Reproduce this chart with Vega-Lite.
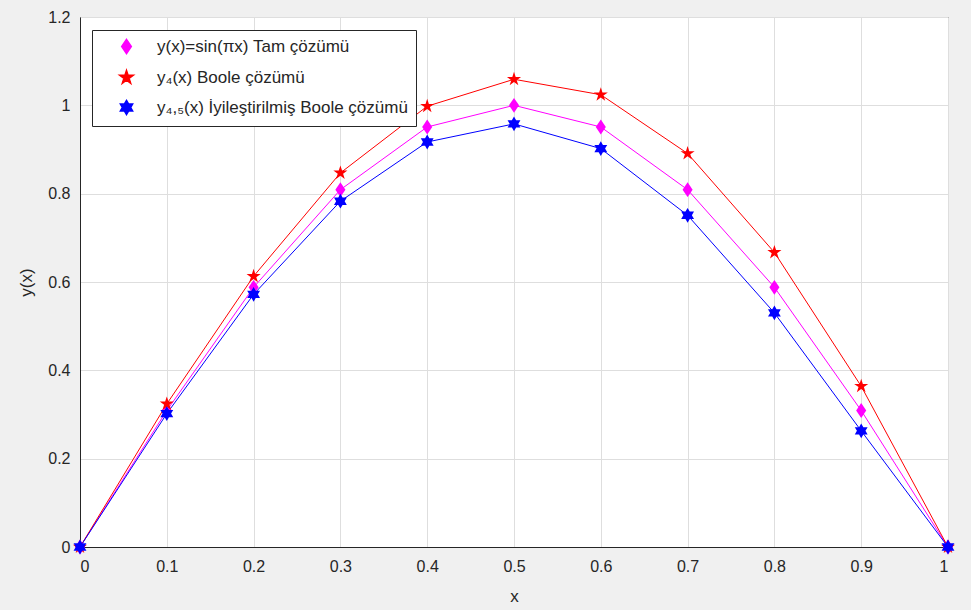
{
  "$schema": "https://vega.github.io/schema/vega-lite/v6.json",
  "autosize": {"type": "none"},
  "padding": {"left": 80, "top": 17, "right": 23, "bottom": 63},
  "width": 868,
  "height": 530,
  "background": "#f0f0f0",
  "config": {
    "font": "Liberation Sans",
    "view": {"fill": "white", "stroke": "#262626", "strokeWidth": 1},
    "axis": {
      "labelFont": "Liberation Sans",
      "titleFont": "Liberation Sans",
      "labelFontSize": 16,
      "titleFontSize": 17,
      "titleFontWeight": "normal",
      "labelColor": "#262626",
      "titleColor": "#262626",
      "gridColor": "#dedede",
      "gridWidth": 1,
      "domainColor": "#262626",
      "tickColor": "#262626",
      "tickSize": 0
    }
  },
  "data": {
    "values": [
      {"x": 0.0, "y": 0.0, "s": "y(x)=sin(πx) Tam çözümü"},
      {"x": 0.1, "y": 0.309, "s": "y(x)=sin(πx) Tam çözümü"},
      {"x": 0.2, "y": 0.588, "s": "y(x)=sin(πx) Tam çözümü"},
      {"x": 0.3, "y": 0.809, "s": "y(x)=sin(πx) Tam çözümü"},
      {"x": 0.4, "y": 0.951, "s": "y(x)=sin(πx) Tam çözümü"},
      {"x": 0.5, "y": 1.0, "s": "y(x)=sin(πx) Tam çözümü"},
      {"x": 0.6, "y": 0.951, "s": "y(x)=sin(πx) Tam çözümü"},
      {"x": 0.7, "y": 0.809, "s": "y(x)=sin(πx) Tam çözümü"},
      {"x": 0.8, "y": 0.588, "s": "y(x)=sin(πx) Tam çözümü"},
      {"x": 0.9, "y": 0.309, "s": "y(x)=sin(πx) Tam çözümü"},
      {"x": 1.0, "y": 0.0, "s": "y(x)=sin(πx) Tam çözümü"},
      {"x": 0.0, "y": 0.0, "s": "y₄(x) Boole çözümü"},
      {"x": 0.1, "y": 0.324, "s": "y₄(x) Boole çözümü"},
      {"x": 0.2, "y": 0.613, "s": "y₄(x) Boole çözümü"},
      {"x": 0.3, "y": 0.847, "s": "y₄(x) Boole çözümü"},
      {"x": 0.4, "y": 0.998, "s": "y₄(x) Boole çözümü"},
      {"x": 0.5, "y": 1.059, "s": "y₄(x) Boole çözümü"},
      {"x": 0.6, "y": 1.024, "s": "y₄(x) Boole çözümü"},
      {"x": 0.7, "y": 0.891, "s": "y₄(x) Boole çözümü"},
      {"x": 0.8, "y": 0.667, "s": "y₄(x) Boole çözümü"},
      {"x": 0.9, "y": 0.364, "s": "y₄(x) Boole çözümü"},
      {"x": 1.0, "y": 0.0, "s": "y₄(x) Boole çözümü"},
      {"x": 0.0, "y": 0.0, "s": "y₄,₅(x) İyileştirilmiş Boole çözümü"},
      {"x": 0.1, "y": 0.302, "s": "y₄,₅(x) İyileştirilmiş Boole çözümü"},
      {"x": 0.2, "y": 0.572, "s": "y₄,₅(x) İyileştirilmiş Boole çözümü"},
      {"x": 0.3, "y": 0.783, "s": "y₄,₅(x) İyileştirilmiş Boole çözümü"},
      {"x": 0.4, "y": 0.917, "s": "y₄,₅(x) İyileştirilmiş Boole çözümü"},
      {"x": 0.5, "y": 0.958, "s": "y₄,₅(x) İyileştirilmiş Boole çözümü"},
      {"x": 0.6, "y": 0.902, "s": "y₄,₅(x) İyileştirilmiş Boole çözümü"},
      {"x": 0.7, "y": 0.751, "s": "y₄,₅(x) İyileştirilmiş Boole çözümü"},
      {"x": 0.8, "y": 0.530, "s": "y₄,₅(x) İyileştirilmiş Boole çözümü"},
      {"x": 0.9, "y": 0.263, "s": "y₄,₅(x) İyileştirilmiş Boole çözümü"},
      {"x": 1.0, "y": 0.0, "s": "y₄,₅(x) İyileştirilmiş Boole çözümü"}
    ]
  },
  "encoding": {
    "x": {
      "field": "x", "type": "quantitative", "title": "x",
      "scale": {"domain": [0, 1], "nice": false},
      "axis": {"values": [0, 0.1, 0.2, 0.3, 0.4, 0.5, 0.6, 0.7, 0.8, 0.9, 1], "format": ".1~f", "labelPadding": 11, "titlePadding": 14}
    },
    "y": {
      "field": "y", "type": "quantitative", "title": "y(x)",
      "scale": {"domain": [0, 1.2], "nice": false},
      "axis": {"values": [0, 0.2, 0.4, 0.6, 0.8, 1, 1.2], "format": ".1~f", "labelPadding": 10, "titlePadding": 12}
    },
    "color": {
      "field": "s", "type": "nominal",
      "sort": ["y(x)=sin(πx) Tam çözümü", "y₄(x) Boole çözümü", "y₄,₅(x) İyileştirilmiş Boole çözümü"],
      "scale": {
        "domain": ["y(x)=sin(πx) Tam çözümü", "y₄(x) Boole çözümü", "y₄,₅(x) İyileştirilmiş Boole çözümü"],
        "range": ["#ff00ff", "#ff0000", "#0000ff"]
      },
      "legend": {
        "title": null,
        "orient": "none",
        "legendX": 12,
        "legendY": 13,
        "fillColor": "white",
        "strokeColor": "#262626",
        "padding": 8,
        "labelFontSize": 17,
        "labelColor": "#262626",
        "labelFont": "Liberation Sans",
        "symbolSize": 200,
        "symbolOffset": 18,
        "labelOffset": 22,
        "rowPadding": 10,
        "labelLimit": 400,
        "symbolOpacity": 1
      }
    }
  },
  "layer": [
    {
      "mark": {"type": "line", "strokeWidth": 1},
      "encoding": {}
    },
    {
      "mark": {"type": "point", "filled": true, "opacity": 1},
      "encoding": {
        "shape": {
          "field": "s", "type": "nominal",
          "scale": {
            "domain": ["y(x)=sin(πx) Tam çözümü", "y₄(x) Boole çözümü", "y₄,₅(x) İyileştirilmiş Boole çözümü"],
            "range": [
              "M0,-1L0.68,0L0,1L-0.68,0Z",
              "M0,-1L0.2245,-0.309L0.951,-0.309L0.363,0.118L0.588,0.809L0,0.382L-0.588,0.809L-0.363,0.118L-0.951,-0.309L-0.2245,-0.309Z",
              "M0,-1L0.2887,-0.5L0.866,-0.5L0.577,0L0.866,0.5L0.2887,0.5L0,1L-0.2887,0.5L-0.866,0.5L-0.577,0L-0.866,-0.5L-0.2887,-0.5Z"
            ]
          },
          "legend": null
        },
        "size": {"value": 220}
      }
    }
  ]
}
